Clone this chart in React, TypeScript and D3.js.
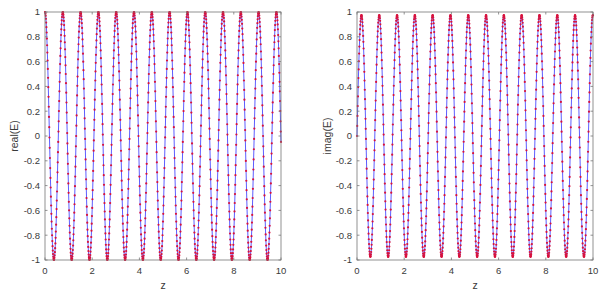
import * as d3 from "d3";
import { useEffect, useRef } from "react";

const zStep = 0.01;
const zMax = 10;
const waveNumber = 8.33;
const realAmp = 1.0;
const imagAmp = 0.975;

const xTicks = [0, 2, 4, 6, 8, 10];
const yTicks = [-1, -0.8, -0.6, -0.4, -0.2, 0, 0.2, 0.4, 0.6, 0.8, 1];
const panelLabels = ["real(E)", "imag(E)"];

const zValues = d3.range(0, Math.round(zMax / zStep) + 1).map((i) => i * zStep);
const realValues = zValues.map((z) => realAmp * Math.cos(waveNumber * z));
const imagValues = zValues.map((z) => imagAmp * Math.sin(waveNumber * z));

const App = () => {
  const ref = useRef<SVGSVGElement>(null);

  useEffect(() => {
    const svg = d3.select(ref.current);
    svg.selectAll("*").remove();
    const width = 611;
    const height = 294;
    svg.attr("width", width).attr("height", height);
    svg.append("rect").attr("width", width).attr("height", height).attr("fill", "#fff");

    const panels = [
      { left: 45, right: 281, values: realValues, label: panelLabels[0], labelX: 14 },
      { left: 357, right: 593, values: imagValues, label: panelLabels[1], labelX: 327 },
    ];
    const top = 12;
    const bottom = 260;
    const font = "'Liberation Sans', Arial, sans-serif";
    const textColor = "#3a3a3a";
    const axisColor = "#777";
    const tickLen = 2.5;

    panels.forEach((p) => {
      const x = d3.scaleLinear().domain([0, 10]).range([p.left, p.right]);
      const y = d3.scaleLinear().domain([-1, 1]).range([bottom, top]);
      const g = svg.append("g");

      const line = d3
        .line<number>()
        .x((_, i) => x(zValues[i]))
        .y((d) => y(d));

      g.append("path")
        .datum(p.values)
        .attr("d", line)
        .attr("fill", "none")
        .attr("stroke", "#2a2aff")
        .attr("stroke-width", 0.9)
        .attr("stroke-opacity", 0.85);

      g.selectAll("circle")
        .data(p.values)
        .enter()
        .append("circle")
        .attr("cx", (_, i) => x(zValues[i]))
        .attr("cy", (d) => y(d))
        .attr("r", 1.1)
        .attr("fill", "#d8123c");

      // box
      g.append("rect")
        .attr("x", p.left)
        .attr("y", top)
        .attr("width", p.right - p.left)
        .attr("height", bottom - top)
        .attr("fill", "none")
        .attr("stroke", axisColor)
        .attr("stroke-width", 0.8);

      // x ticks (bottom + top, inward)
      xTicks.forEach((t) => {
        g.append("line")
          .attr("x1", x(t)).attr("x2", x(t))
          .attr("y1", bottom).attr("y2", bottom - tickLen)
          .attr("stroke", axisColor).attr("stroke-width", 0.8);
        g.append("line")
          .attr("x1", x(t)).attr("x2", x(t))
          .attr("y1", top).attr("y2", top + tickLen)
          .attr("stroke", axisColor).attr("stroke-width", 0.8);
        g.append("text")
          .attr("x", x(t))
          .attr("y", bottom + 14)
          .attr("text-anchor", "middle")
          .attr("font-family", font)
          .attr("font-size", 9.5)
          .attr("fill", textColor)
          .text(t);
      });

      // y ticks (left + right, inward)
      yTicks.forEach((t) => {
        g.append("line")
          .attr("x1", p.left).attr("x2", p.left + tickLen)
          .attr("y1", y(t)).attr("y2", y(t))
          .attr("stroke", axisColor).attr("stroke-width", 0.8);
        g.append("line")
          .attr("x1", p.right).attr("x2", p.right - tickLen)
          .attr("y1", y(t)).attr("y2", y(t))
          .attr("stroke", axisColor).attr("stroke-width", 0.8);
        g.append("text")
          .attr("x", p.left - 5)
          .attr("y", y(t))
          .attr("dy", "0.35em")
          .attr("text-anchor", "end")
          .attr("font-family", font)
          .attr("font-size", 9.5)
          .attr("fill", textColor)
          .text(t);
      });

      g.append("text")
        .attr("x", (p.left + p.right) / 2)
        .attr("y", 289)
        .attr("text-anchor", "middle")
        .attr("font-family", font)
        .attr("font-size", 10.5)
        .attr("fill", textColor)
        .text("z");

      g.append("text")
        .attr("transform", `translate(${p.labelX},${(top + bottom) / 2}) rotate(-90)`)
        .attr("dy", "0.35em")
        .attr("text-anchor", "middle")
        .attr("font-family", font)
        .attr("font-size", 10.5)
        .attr("fill", textColor)
        .text(p.label);
    });
  }, []);

  return <svg ref={ref} style={{ position: "absolute", left: 0, top: 0 }}></svg>;
};

export default App;
